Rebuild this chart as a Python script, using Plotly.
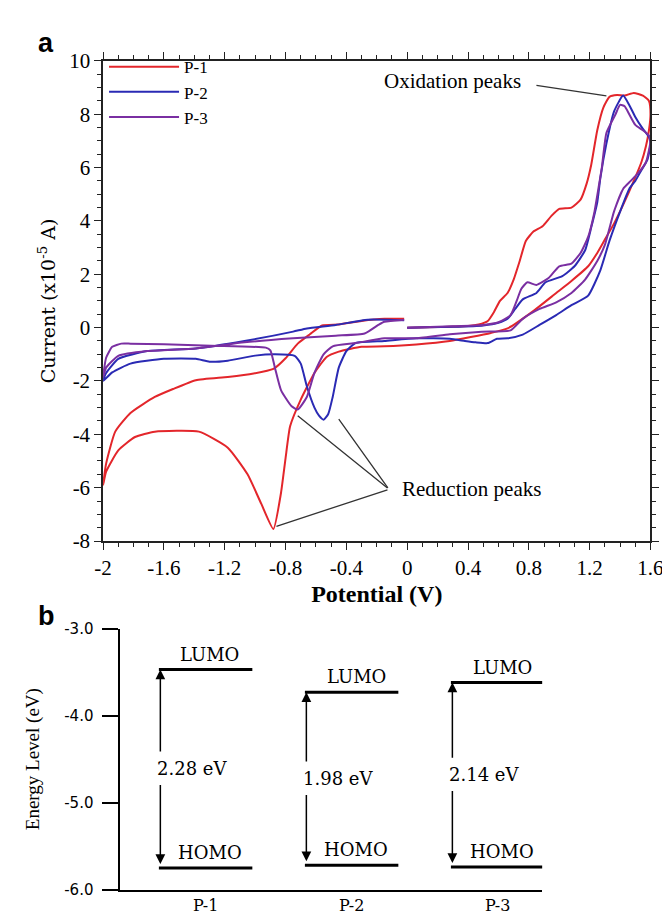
import plotly.graph_objects as go

# ---------------- Panel a data: cyclic voltammograms ----------------
P1_V = [0.00, 0.20, 0.40, 0.47, 0.53, 0.57, 0.61, 0.66, 0.70, 0.74, 0.78, 0.83, 0.89, 0.95, 1.00, 1.08, 1.14, 1.18,
        1.21, 1.25, 1.29, 1.33, 1.38, 1.43, 1.49, 1.55, 1.59, 1.60, 1.59, 1.57, 1.54, 1.49, 1.42, 1.36, 1.30, 1.25,
        1.19, 1.08, 0.98, 0.82, 0.66, 0.55, 0.28, 0.06, -0.15, -0.30, -0.45, -0.53, -0.61, -0.70, -0.77, -0.80,
        -0.83, -0.88, -0.96, -1.05, -1.18, -1.37, -1.66, -1.79, -1.90, -1.98, -2.00, -1.98, -1.92, -1.82, -1.66,
        -1.54, -1.39, -1.18, -1.01, -0.88, -0.80, -0.72, -0.64, -0.56, -0.45, -0.30, -0.15, -0.02]
P1_I = [0.00, 0.02, 0.06, 0.12, 0.25, 0.58, 1.00, 1.30, 1.80, 2.50, 3.25, 3.60, 3.80, 4.20, 4.45, 4.50, 4.80, 5.40,
        6.10, 7.40, 8.25, 8.65, 8.72, 8.70, 8.80, 8.70, 8.50, 8.00, 7.40, 6.80, 6.20, 5.50, 4.60, 3.90, 3.30, 2.80,
        2.30, 1.75, 1.30, 0.58, -0.03, -0.20, -0.50, -0.63, -0.70, -0.72, -0.90, -1.10, -1.70, -2.70, -3.70, -4.90,
        -6.20, -7.55, -6.60, -5.50, -4.50, -3.90, -3.90, -4.10, -4.60, -5.40, -5.90, -5.10, -3.90, -3.20, -2.60,
        -2.30, -1.97, -1.85, -1.72, -1.55, -1.15, -0.60, -0.25, 0.08, 0.12, 0.25, 0.33, 0.33]

P2_V = [0.00, 0.30, 0.50, 0.60, 0.66, 0.71, 0.76, 0.85, 0.91, 1.02, 1.10, 1.17, 1.21, 1.25, 1.27, 1.31, 1.36, 1.42,
        1.46, 1.50, 1.55, 1.59, 1.60, 1.58, 1.54, 1.50, 1.46, 1.40, 1.33, 1.27, 1.19, 1.08, 0.98, 0.87, 0.76, 0.66,
        0.59, 0.53, 0.45, 0.38, 0.28, 0.06, -0.15, -0.34, -0.40, -0.45, -0.49, -0.52, -0.55, -0.58, -0.61, -0.66,
        -0.70, -0.74, -0.87, -1.00, -1.18, -1.30, -1.39, -1.60, -1.82, -1.94, -2.00, -1.98, -1.90, -1.71, -1.39,
        -1.07, -0.75, -0.66, -0.47, -0.26, -0.02]
P2_I = [0.00, 0.03, 0.08, 0.18, 0.33, 0.70, 1.06, 1.30, 1.70, 1.93, 2.30, 2.90, 3.75, 4.70, 5.60, 6.90, 8.10, 8.70,
        8.35, 7.90, 7.45, 7.15, 6.90, 6.30, 5.90, 5.50, 5.20, 4.35, 3.25, 2.15, 1.20, 0.84, 0.47, 0.10, -0.26, -0.40,
        -0.42, -0.58, -0.55, -0.50, -0.42, -0.40, -0.50, -0.58, -0.88, -1.50, -2.60, -3.25, -3.45, -3.30, -3.00, -2.20,
        -1.35, -1.06, -1.00, -1.05, -1.24, -1.28, -1.17, -1.17, -1.35, -1.68, -2.00, -1.70, -1.17, -0.88, -0.78,
        -0.50, -0.15, -0.03, 0.10, 0.30, 0.28]

P3_V = [0.00, 0.30, 0.50, 0.60, 0.68, 0.72, 0.75, 0.79, 0.85, 0.93, 1.00, 1.08, 1.14, 1.19, 1.23, 1.26, 1.28, 1.31,
        1.37, 1.40, 1.43, 1.46, 1.50, 1.55, 1.59, 1.60, 1.57, 1.52, 1.47, 1.42, 1.36, 1.30, 1.25, 1.17, 1.08, 0.98,
        0.87, 0.76, 0.68, 0.49, 0.28, 0.06, -0.15, -0.34, -0.49, -0.55, -0.61, -0.66, -0.72, -0.76, -0.83, -0.87,
        -0.90, -0.93, -1.29, -1.60, -1.82, -1.88, -1.94, -1.98, -2.00, -1.98, -1.90, -1.71, -1.39, -1.07, -0.75,
        -0.47, -0.28, -0.19, -0.15, -0.02]
P3_I = [0.00, 0.05, 0.10, 0.20, 0.47, 1.00, 1.45, 1.70, 1.60, 1.86, 2.30, 2.40, 2.80, 3.40, 4.30, 5.30, 6.00, 7.30,
        8.00, 8.35, 8.30, 8.00, 7.60, 7.40, 7.20, 7.00, 6.20, 5.80, 5.50, 5.20, 4.35, 3.10, 2.50, 1.80, 1.30, 0.95,
        0.70, 0.33, -0.10, -0.15, -0.25, -0.40, -0.40, -0.58, -0.70, -1.00, -1.70, -2.60, -3.07, -2.95, -2.34, -1.50,
        -0.85, -0.75, -0.68, -0.62, -0.60, -0.60, -0.72, -1.13, -1.86, -1.50, -1.06, -0.88, -0.78, -0.55, -0.40,
        -0.30, -0.22, 0.10, 0.22, 0.30]

SERIES_NAMES = ["P-1", "P-2", "P-3"]
SERIES_COLORS = ["#e3262b", "#2a2ab4", "#7a2fa2"]

X_TICKS = [-2, -1.6, -1.2, -0.8, -0.4, 0, 0.4, 0.8, 1.2, 1.6]
X_TICKTEXT = ["-2", "-1.6", "-1.2", "-0.8", "-0.4", "0", "0.4", "0.8", "1.2", "1.6"]
Y_TICKS = [-8, -6, -4, -2, 0, 2, 4, 6, 8, 10]
Y_TICKTEXT = ["-8", "-6", "-4", "-2", "0", "2", "4", "6", "8", "10"]

# peak annotation anchor points (data units)
OX_TEXT = (0.76, 9.23)
OX_LINE = [(0.84, 9.09), (1.31, 8.69)]
RED_HUB = (-0.12, -6.06)
RED_TARGETS = [(-0.86, -7.45), (-0.72, -3.30), (-0.45, -3.43)]

# ---------------- Panel b data: energy levels ----------------
POLYMERS = ["P-1", "P-2", "P-3"]
LUMO = [-3.47, -3.73, -3.62]
HOMO = [-5.75, -5.72, -5.74]
GAP_TEXT = ["2.28 eV", "1.98 eV", "2.14 eV"]
E_TICKS = [-3, -4, -5, -6]
E_TICKTEXT = ["-3.0", "-4.0", "-5.0", "-6.0"]

W, H = 670, 918
SERIF = "Liberation Serif, Times New Roman, serif"
WIDE_SERIF = "DejaVu Serif, serif"

fig = go.Figure()

for v, i, name, col in zip([P1_V, P2_V, P3_V], [P1_I, P2_I, P3_I], SERIES_NAMES, SERIES_COLORS):
    fig.add_trace(go.Scatter(x=v, y=i, mode="lines", name=name,
                             line=dict(color=col, width=2, shape="spline", smoothing=0.5),
                             xaxis="x", yaxis="y"))

# energy levels
half = 0.32
for k, (p, lu, ho) in enumerate(zip(POLYMERS, LUMO, HOMO)):
    c = k + 1
    for lev in (lu, ho):
        fig.add_trace(go.Scatter(x=[c - half, c + half], y=[lev, lev], mode="lines",
                                 line=dict(color="black", width=3), showlegend=False,
                                 hoverinfo="skip", xaxis="x2", yaxis="y2"))

annotations = []
# panel letters
annotations.append(dict(text="<b>a</b>", x=20 / W, y=1 - 24 / H, xref="paper", yref="paper",
                        xanchor="left", yanchor="middle", showarrow=False,
                        font=dict(family="Liberation Sans, Arial", size=27, color="black")))
annotations.append(dict(text="<b>b</b>", x=20 / W, y=1 - 612 / H, xref="paper", yref="paper",
                        xanchor="left", yanchor="middle", showarrow=False,
                        font=dict(family="Liberation Sans, Arial", size=27, color="black")))

# oxidation peaks
annotations.append(dict(text="Oxidation peaks", x=OX_TEXT[0], y=OX_TEXT[1], xref="x", yref="y",
                        xanchor="right", yanchor="middle", showarrow=False,
                        font=dict(family=SERIF, size=21, color="black")))
annotations.append(dict(text="", x=OX_LINE[1][0], y=OX_LINE[1][1], ax=OX_LINE[0][0], ay=OX_LINE[0][1],
                        xref="x", yref="y", axref="x", ayref="y", showarrow=True, arrowhead=0,
                        arrowwidth=1.3, arrowcolor="#333"))
# reduction peaks
annotations.append(dict(text="Reduction peaks", x=RED_HUB[0] + 0.07, y=RED_HUB[1], xref="x", yref="y",
                        xanchor="left", yanchor="middle", showarrow=False,
                        font=dict(family=SERIF, size=21, color="black")))
for tx, ty in RED_TARGETS:
    annotations.append(dict(text="", x=tx, y=ty, ax=RED_HUB[0], ay=RED_HUB[1],
                            xref="x", yref="y", axref="x", ayref="y", showarrow=True, arrowhead=0,
                            arrowwidth=1.3, arrowcolor="#333"))

# panel b labels and arrows
for k, (lu, ho, gt) in enumerate(zip(LUMO, HOMO, GAP_TEXT)):
    c = k + 1
    mid = (lu + ho) / 2
    ax_x = c - 0.31
    annotations.append(dict(text="LUMO", x=c + 0.03, y=lu, xref="x2", yref="y2", xanchor="center",
                            yanchor="bottom", yshift=3, showarrow=False,
                            font=dict(family=WIDE_SERIF, size=18, color="black")))
    annotations.append(dict(text="HOMO", x=c + 0.03, y=ho, xref="x2", yref="y2", xanchor="center",
                            yanchor="bottom", yshift=3, showarrow=False,
                            font=dict(family=WIDE_SERIF, size=18, color="black")))
    annotations.append(dict(text=gt, x=ax_x, y=mid, xref="x2", yref="y2", xanchor="left", xshift=-5,
                            yanchor="middle", showarrow=False,
                            font=dict(family=WIDE_SERIF, size=18, color="black")))
    annotations.append(dict(text="", x=ax_x, y=lu, ax=ax_x, ay=mid + 0.18, xref="x2", yref="y2",
                            axref="x2", ayref="y2", showarrow=True, arrowhead=2, arrowsize=1.3,
                            arrowwidth=1.5, arrowcolor="black"))
    annotations.append(dict(text="", x=ax_x, y=ho, ax=ax_x, ay=mid - 0.17, xref="x2", yref="y2",
                            axref="x2", ayref="y2", showarrow=True, arrowhead=2, arrowsize=1.3,
                            arrowwidth=1.5, arrowcolor="black", standoff=4))

fig.update_layout(
    width=W, height=H,
    margin=dict(l=0, r=0, t=0, b=0),
    paper_bgcolor="white", plot_bgcolor="white",
    font=dict(family=SERIF, color="black"),
    showlegend=True,
    legend=dict(x=90 / W, y=1 - 30 / H, xanchor="left", yanchor="top",
                font=dict(family=SERIF, size=17, color="black"),
                bgcolor="rgba(0,0,0,0)", itemwidth=70, tracegroupgap=0),
    annotations=annotations,
    xaxis=dict(domain=[89 / W, 655 / W], range=[-2, 1.6], anchor="y",
               showline=True, linecolor="#222", linewidth=1.5, mirror="ticks",
               ticks="outside", ticklen=7, tickwidth=1.3, tickcolor="#222",
               tickmode="array", tickvals=X_TICKS, ticktext=X_TICKTEXT,
               minor=dict(ticks="outside", ticklen=4, tickwidth=1, tickcolor="#222",
                          tickmode="linear", tick0=-2, dtick=0.1),
               showgrid=False, zeroline=False,
               tickfont=dict(family=SERIF, size=21, color="black"),
               title=dict(text="<b>Potential (V)</b>", standoff=6,
                          font=dict(family=SERIF, size=24, color="black"))),
    yaxis=dict(domain=[1 - 535 / H, 1 - 42 / H], range=[-8, 10], anchor="x",
               showline=True, linecolor="#222", linewidth=1.5, mirror="ticks",
               ticks="outside", ticklen=7, tickwidth=1.3, tickcolor="#222",
               tickmode="array", tickvals=Y_TICKS, ticktext=Y_TICKTEXT,
               minor=dict(ticks="outside", ticklen=4, tickwidth=1, tickcolor="#222",
                          tickmode="linear", tick0=-8, dtick=0.5),
               showgrid=False, zeroline=False,
               tickfont=dict(family=SERIF, size=21, color="black"),
               title=dict(text="Current (x10<sup>-5</sup> A)", standoff=8,
                          font=dict(family=WIDE_SERIF, size=19, color="black"))),
    xaxis2=dict(domain=[107 / W, 543 / W], range=[0.417, 3.305], anchor="y2",
                showline=True, linecolor="black", linewidth=2,
                ticks="", tickmode="array", tickvals=[1, 2, 3], ticktext=POLYMERS,
                ticklabelstandoff=0,
                showgrid=False, zeroline=False,
                tickfont=dict(family=WIDE_SERIF, size=16, color="black")),
    yaxis2=dict(domain=[1 - 893 / H, 1 - 625 / H], range=[-6, -3], anchor="x2",
                showline=True, linecolor="black", linewidth=2,
                ticks="outside", ticklen=16, tickwidth=2, tickcolor="black",
                tickmode="array", tickvals=E_TICKS, ticktext=E_TICKTEXT,
                ticklabelstandoff=6,
                showgrid=False, zeroline=False,
                tickfont=dict(family="DejaVu Sans, sans-serif", size=15, color="black"),
                title=dict(text="Energy Level (eV)", standoff=20,
                           font=dict(family=SERIF, size=19, color="black"))),
)

fig.write_html("out.html")
